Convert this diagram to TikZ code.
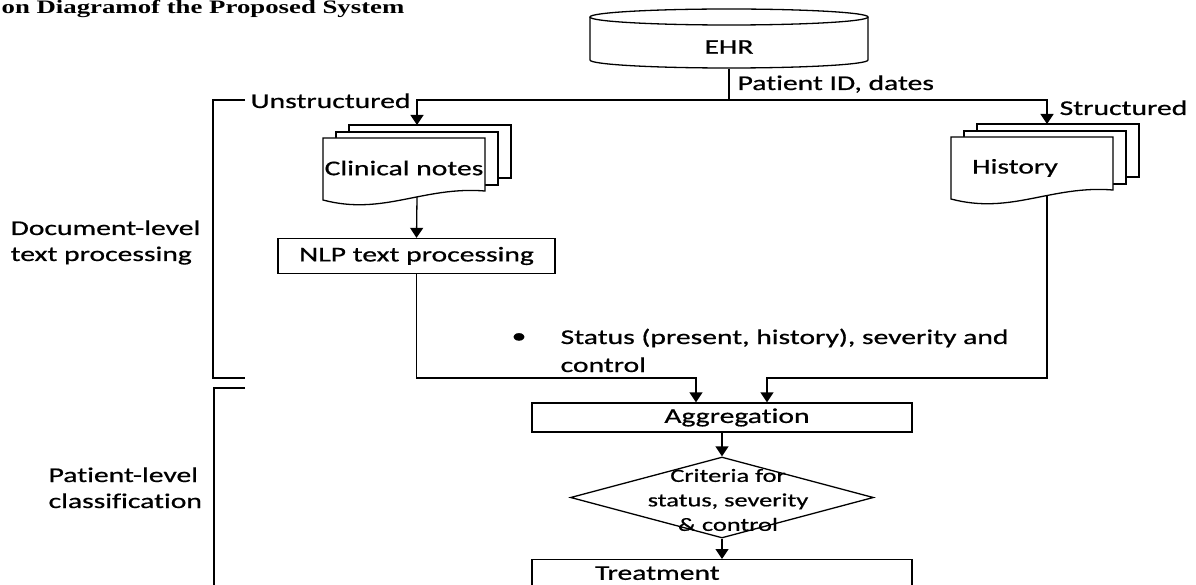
\documentclass[tikz,border=0pt]{standalone}
\usepackage{fontspec}
\setmainfont{Carlito}[FakeStretch=1.41, FakeBold=0.7, Ligatures=NoCommon]
\newfontfamily\titlefont{Liberation Serif}[FakeStretch=1.41]
\usetikzlibrary{shapes.geometric,arrows.meta}

\begin{document}
\begin{tikzpicture}[x=1pt, y=-1pt, line width=1.3pt,
    every node/.style={font=\fontsize{21}{26}\selectfont, inner sep=0pt},
    box/.style={draw, rectangle, minimum height=35pt, fill=white},
    arr/.style={-{Triangle[width=13pt,length=10pt]}},
    page/.style={draw, fill=white}]

        % Frame
        \fill[white] (0,0) rectangle (1196,585);
        \clip (0,0) rectangle (1196,585);

        % Stack of three pages, #1/#2 = top left of the front page
        \newcommand{\docstack}[2]{
            \foreach \dx/\dy in {26/-13,13/-6}{
                \draw[page] (#1+\dx,#2+\dy) rectangle ++(162,53);
            }
            \draw[page] (#1,#2) -- (#1+162,#2) -- (#1+162,#2+53)
                .. controls (#1+100,#2+48) and (#1+60,#2+78) .. (#1,#2+62) -- cycle;
        }

        \node[anchor=base west, font=\titlefont\bfseries\fontsize{19}{22}\selectfont] (title) at (1,14) {on Diagramof the Proposed System};

        % Database
        \draw[fill=white] (590,17) -- (590,60) arc[start angle=180, end angle=0, x radius=139, y radius=8] -- (868,17);
        \draw (729,17) ellipse[x radius=139, y radius=8];
        \node[minimum width=278pt, minimum height=42pt] (ehr) at (729,47) {EHR};
        \node[anchor=base west] (pid) at (737,90) {Patient ID, dates};

        % Documents
        \docstack{323}{138}
        \docstack{951}{137}
        \node (notes) at (404,168) {Clinical notes};
        \node (hist) at (1015,168) {History};
        \coordinate (notes in) at (417,125);
        \coordinate (notes out) at (417,197);
        \coordinate (hist in) at (1047,124);
        \coordinate (hist out) at (1047,196);
        \node[anchor=base west] (unstr) at (250,108) {Unstructured};
        \node[anchor=base west] (str) at (1059,115) {Structured};

        \coordinate (split) at (729,100);
        \draw (ehr.south) -- (split);
        \draw[arr] (split) -| (notes in);
        \draw[arr] (split) -| (hist in);

        \node[box, minimum width=277pt] (nlp) at (416.5,256) {NLP text processing};
        \draw[arr] (notes out) -- (nlp.north);

        \node (bullet) at (519,338) {\textbullet};
        \node[anchor=base west, align=left, font=\fontsize{21}{28}\selectfont] (status) at (560,372) {Status (present, history), severity and\\control};

        % Patient level
        \node[box, minimum width=380pt, minimum height=29pt, text width=175pt, align=right] (agg) at (722,417.5) {Aggregation};
        \coordinate (agg left) at (696,378);
        \coordinate (agg right) at (767,378);
        \draw[arr] (nlp.south) |- (agg left) -- (agg left |- agg.north);
        \draw[arr] (hist out) |- (agg right) -- (agg right |- agg.north);

        \node[draw, diamond, minimum width=303pt, minimum height=81pt, fill=white] (crit) at (722,497.5) {};
        \node[align=center, font=\fontsize{18.7}{24.5}\selectfont] (crit text) at (728,500) {Criteria for\\status, severity\\\& control};
        \draw[arr] (agg.south) -- (crit.north);

        \node[box, anchor=north, minimum width=380pt, minimum height=27pt, text width=254pt, align=left] (treat) at (722,559) {Treatment};
        \draw[arr] (crit.south) -- (treat.north);

        % Levels
        \node[anchor=base west, align=left] (doc lvl) at (10,261) {Document-level\\text processing};
        \node[anchor=base west, align=left] (pat lvl) at (48,508) {Patient-level\\classification};
        \draw (245,100) -- (213,100) -- (213,378) -- (245,378);
        \draw (245,388) -- (214,388) -- (214,600);

\end{tikzpicture}
\end{document}
